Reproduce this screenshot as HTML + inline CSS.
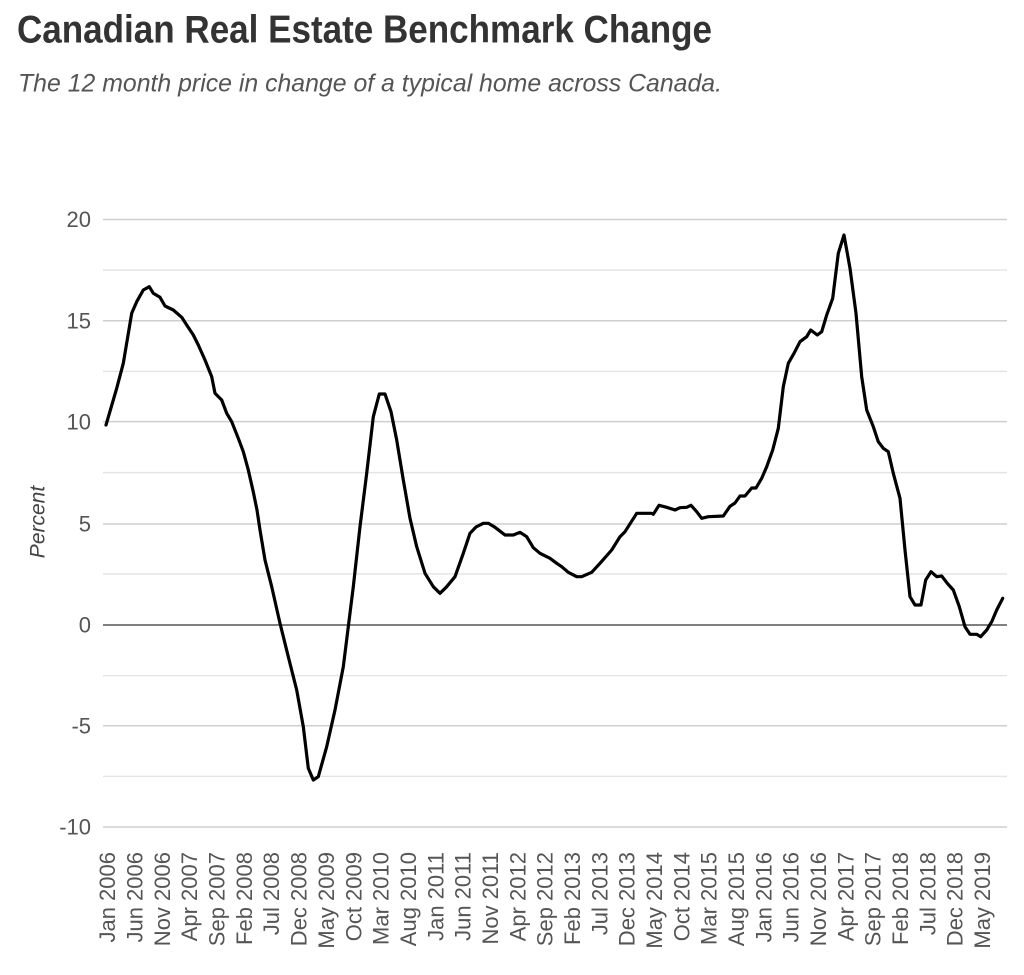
<!DOCTYPE html>
<html>
<head>
<meta charset="utf-8">
<style>
html,body{margin:0;padding:0;background:#fff;}
svg{display:block;}
</style>
</head>
<body>
<svg width="1024" height="975" viewBox="0 0 1024 975" xmlns="http://www.w3.org/2000/svg">
<rect width="1024" height="975" fill="#fff"/>
<text x="17" y="42.7" font-family="Liberation Sans, sans-serif" font-weight="bold" font-size="39" fill="#333" textLength="695" lengthAdjust="spacingAndGlyphs">Canadian Real Estate Benchmark Change</text>
<text x="18" y="91.7" font-family="Liberation Sans, sans-serif" font-style="italic" font-size="25" fill="#555" textLength="704" lengthAdjust="spacingAndGlyphs">The 12 month price in change of a typical home across Canada.</text>

<g stroke="#e4e4e4" stroke-width="1.5">
<line x1="103" y1="270.1" x2="1007" y2="270.1"/>
<line x1="103" y1="371.4" x2="1007" y2="371.4"/>
<line x1="103" y1="472.6" x2="1007" y2="472.6"/>
<line x1="103" y1="573.9" x2="1007" y2="573.9"/>
<line x1="103" y1="675.6" x2="1007" y2="675.6"/>
<line x1="103" y1="776.4" x2="1007" y2="776.4"/>
</g>
<g stroke="#cfcfcf" stroke-width="1.5">
<line x1="103" y1="219.5" x2="1007" y2="219.5"/>
<line x1="103" y1="320.7" x2="1007" y2="320.7"/>
<line x1="103" y1="421.6" x2="1007" y2="421.6"/>
<line x1="103" y1="524" x2="1007" y2="524"/>
<line x1="103" y1="725.8" x2="1007" y2="725.8"/>
<line x1="103" y1="827" x2="1007" y2="827"/>
</g>
<line x1="103" y1="625" x2="1007" y2="625" stroke="#333" stroke-width="1.3"/>

<g font-family="Liberation Sans, sans-serif" font-size="22" fill="#555" text-anchor="end">
<text x="91" y="219.5" dy="0.35em">20</text>
<text x="91" y="320.7" dy="0.35em">15</text>
<text x="91" y="421.6" dy="0.35em">10</text>
<text x="91" y="524" dy="0.35em">5</text>
<text x="91" y="625" dy="0.35em">0</text>
<text x="91" y="725.8" dy="0.35em">-5</text>
<text x="91" y="827" dy="0.35em">-10</text>
</g>
<text x="37" y="522" transform="rotate(-90 37 522)" dy="0.35em" text-anchor="middle" font-family="Liberation Sans, sans-serif" font-style="italic" font-size="21" fill="#444">Percent</text>

<g font-family="Liberation Sans, sans-serif" font-size="22" fill="#555" text-anchor="end">
<text x="107.5" y="852" transform="rotate(-90 107.5 852)" dy="0.35em">Jan 2006</text>
<text x="134.8" y="852" transform="rotate(-90 134.8 852)" dy="0.35em">Jun 2006</text>
<text x="162.2" y="852" transform="rotate(-90 162.2 852)" dy="0.35em">Nov 2006</text>
<text x="189.5" y="852" transform="rotate(-90 189.5 852)" dy="0.35em">Apr 2007</text>
<text x="216.9" y="852" transform="rotate(-90 216.9 852)" dy="0.35em">Sep 2007</text>
<text x="244.2" y="852" transform="rotate(-90 244.2 852)" dy="0.35em">Feb 2008</text>
<text x="271.5" y="852" transform="rotate(-90 271.5 852)" dy="0.35em">Jul 2008</text>
<text x="298.9" y="852" transform="rotate(-90 298.9 852)" dy="0.35em">Dec 2008</text>
<text x="326.2" y="852" transform="rotate(-90 326.2 852)" dy="0.35em">May 2009</text>
<text x="353.6" y="852" transform="rotate(-90 353.6 852)" dy="0.35em">Oct 2009</text>
<text x="380.9" y="852" transform="rotate(-90 380.9 852)" dy="0.35em">Mar 2010</text>
<text x="408.2" y="852" transform="rotate(-90 408.2 852)" dy="0.35em">Aug 2010</text>
<text x="435.6" y="852" transform="rotate(-90 435.6 852)" dy="0.35em">Jan 2011</text>
<text x="462.9" y="852" transform="rotate(-90 462.9 852)" dy="0.35em">Jun 2011</text>
<text x="490.3" y="852" transform="rotate(-90 490.3 852)" dy="0.35em">Nov 2011</text>
<text x="517.6" y="852" transform="rotate(-90 517.6 852)" dy="0.35em">Apr 2012</text>
<text x="544.9" y="852" transform="rotate(-90 544.9 852)" dy="0.35em">Sep 2012</text>
<text x="572.3" y="852" transform="rotate(-90 572.3 852)" dy="0.35em">Feb 2013</text>
<text x="599.6" y="852" transform="rotate(-90 599.6 852)" dy="0.35em">Jul 2013</text>
<text x="627.0" y="852" transform="rotate(-90 627.0 852)" dy="0.35em">Dec 2013</text>
<text x="654.3" y="852" transform="rotate(-90 654.3 852)" dy="0.35em">May 2014</text>
<text x="681.6" y="852" transform="rotate(-90 681.6 852)" dy="0.35em">Oct 2014</text>
<text x="709.0" y="852" transform="rotate(-90 709.0 852)" dy="0.35em">Mar 2015</text>
<text x="736.3" y="852" transform="rotate(-90 736.3 852)" dy="0.35em">Aug 2015</text>
<text x="763.7" y="852" transform="rotate(-90 763.7 852)" dy="0.35em">Jan 2016</text>
<text x="791.0" y="852" transform="rotate(-90 791.0 852)" dy="0.35em">Jun 2016</text>
<text x="818.3" y="852" transform="rotate(-90 818.3 852)" dy="0.35em">Nov 2016</text>
<text x="845.7" y="852" transform="rotate(-90 845.7 852)" dy="0.35em">Apr 2017</text>
<text x="873.0" y="852" transform="rotate(-90 873.0 852)" dy="0.35em">Sep 2017</text>
<text x="900.4" y="852" transform="rotate(-90 900.4 852)" dy="0.35em">Feb 2018</text>
<text x="927.7" y="852" transform="rotate(-90 927.7 852)" dy="0.35em">Jul 2018</text>
<text x="955.0" y="852" transform="rotate(-90 955.0 852)" dy="0.35em">Dec 2018</text>
<text x="982.4" y="852" transform="rotate(-90 982.4 852)" dy="0.35em">May 2019</text>
</g>

<polyline fill="none" stroke="#000" stroke-width="3.2" stroke-linejoin="round" stroke-linecap="round" points="
106,425 116.7,388.3 123.3,363.3 131.7,313.3 136.7,301.7 143.3,290 149.3,286.7 153.3,293.3 160,297.3 165,306 173.3,310 181.7,317.3 186.7,325 193.3,335 198.3,345 205,360 211.7,376.7 215,393.3 221.7,400 226.7,413.3 231.7,421.7 238.3,438.3 243.3,451.7 248.3,470 253.3,492 257,510 260,530 265,560 271.7,586.7 280,623.3 288.3,656.7 296.7,690 303.3,726.7 308.3,768.3 313.3,780 318.3,776.7 326.7,746.7 335,710 343.3,666.7 348.3,626.7 353.3,586.7 360,526.7 366.7,473.3 373.3,416.7 379.3,394 385,394 391,411.7 396.7,440 403.3,480 410,518.3 416.7,546.7 425,573.3 433.3,586.7 440,593.3 446.7,586.7 455,576.7 463.3,553.3 470,533.3 476,527 483.3,523.3 488.3,523.3 495,527.3 505,535 513.3,535 520,532.3 526.7,536.7 533.3,547.7 540,553.3 550,558.3 556.7,563.3 561.7,566.7 568.3,572.3 576.7,576.7 581.7,576.7 591.7,572.3 600,563.3 611.7,550 620,536.7 625,531.7 636.7,513.3 651.7,513.3 653.3,514.3 659,505.3 666.7,507.3 675,510 680,507.7 686.7,507.3 691,505.3 696.7,511.7 701.7,518.3 708.3,516.7 723.3,516 730,506.3 735,503 740,496 745,496 751.7,488 756,488 761.7,478.3 766.7,466.7 772.7,450 778.3,428.3 783.3,386.7 788.3,363.3 794,353.3 800,341.7 806.7,336.7 810.7,330 817.3,335 821.7,331.7 826.7,315 832.7,298.3 838.3,253.3 844,235 850,268.3 856,313.3 861.7,376.7 866.7,410 873.3,426.7 878.3,441.7 883.3,448.3 888.3,451.7 893.3,473.3 900,498.3 905,550 910,596.7 915,605 921,605 925.7,580 931,571.7 936.7,576.7 941.7,576 947.3,583.3 953.3,590 959.3,606.7 965,626.7 970,634.3 976.7,634.3 980.7,636.7 986.7,630 991.7,621.7 996.7,610 1002.7,598.3"/>
</svg>
</body>
</html>
